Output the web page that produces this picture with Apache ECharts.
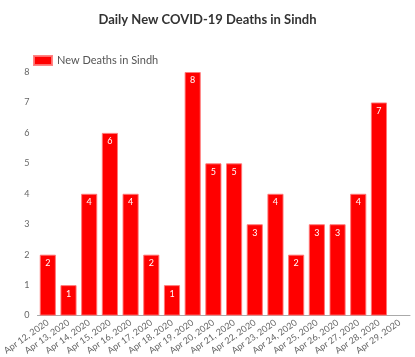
<!DOCTYPE html>
<html><head><meta charset="utf-8">
<script src="https://cdn.jsdelivr.net/npm/echarts@6/dist/echarts.min.js"></script>
<style>html,body{margin:0;padding:0;background:#fff}#c{width:415px;height:357px}</style>
</head><body><div id="c"></div>
<script>
const categories = ["Apr 12, 2020","Apr 13, 2020","Apr 14, 2020","Apr 15, 2020","Apr 16, 2020","Apr 17, 2020","Apr 18, 2020","Apr 19, 2020","Apr 20, 2020","Apr 21, 2020","Apr 22, 2020","Apr 23, 2020","Apr 24, 2020","Apr 25, 2020","Apr 26, 2020","Apr 27, 2020","Apr 28, 2020","Apr 29, 2020"];
const deaths = [2,1,4,6,4,2,1,8,5,5,3,4,2,3,3,4,7,0];
const yTicks = [0,1,2,3,4,5,6,7,8];
const chart = echarts.init(document.getElementById('c'));
chart.setOption({
  animation:false,
  textStyle:{fontFamily:'Lato'},
  title:{text:'Daily New COVID-19 Deaths in Sindh',left:'center',top:8,textStyle:{fontSize:13,fontWeight:'bold',color:'#333',fontFamily:'Lato'}},
  legend:{left:28,top:50,icon:'rect',itemWidth:18,itemHeight:9,itemGap:4,textStyle:{fontSize:11,color:'#555'},data:['New Deaths in Sindh']},
  grid:{left:33,right:5,top:72,bottom:41,containLabel:false},
  xAxis:{type:'category',data:categories,
    axisLine:{lineStyle:{color:'#aaa'}},axisTick:{show:false},
    axisLabel:{rotate:35,fontSize:9,color:'#666',interval:0,width:60,overflow:'truncate',margin:6}},
  yAxis:{type:'value',min:0,max:yTicks[yTicks.length-1],interval:1,
    axisLine:{show:false},axisTick:{show:false},splitLine:{show:false},
    axisLabel:{fontSize:9,color:'#666',margin:8}},
  series:[{name:'New Deaths in Sindh',type:'bar',
    data:deaths.map(v=>v>0?v:{value:v,itemStyle:{borderWidth:0,opacity:0}}),barCategoryGap:'22%',
    itemStyle:{color:'#ff0000',borderColor:'rgba(255,120,120,0.9)',borderWidth:1},
    label:{show:true,position:'insideTop',color:'#fff',fontSize:9,distance:4,
      formatter:p=>p.value>0?p.value:''}}]
});
</script></body></html>
